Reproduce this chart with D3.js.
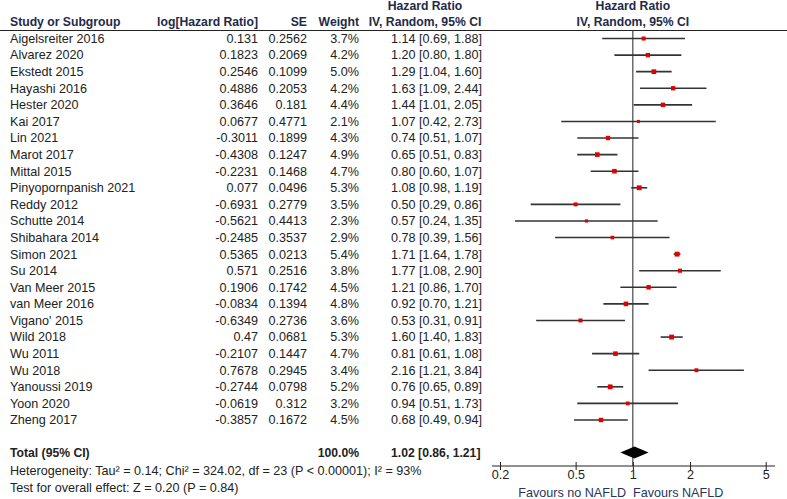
<!DOCTYPE html>
<html><head><meta charset="utf-8">
<script src="https://cdn.jsdelivr.net/npm/d3@7"></script>
<style>
body{margin:0;background:#fff;}
svg text{font-family:"Liberation Sans",Arial,sans-serif;}
</style></head>
<body><svg id="c" width="787" height="499"></svg>
<script>
const studies = ["Aigelsreiter 2016","Alvarez 2020","Ekstedt 2015","Hayashi 2016","Hester 2020","Kai 2017","Lin 2021","Marot 2017","Mittal 2015","Pinyopornpanish 2021","Reddy 2012","Schutte 2014","Shibahara 2014","Simon 2021","Su 2014","Van Meer 2015","van Meer 2016","Vigano' 2015","Wild 2018","Wu 2011","Wu 2018","Yanoussi 2019","Yoon 2020","Zheng 2017"];
const logHR = ["0.131","0.1823","0.2546","0.4886","0.3646","0.0677","-0.3011","-0.4308","-0.2231","0.077","-0.6931","-0.5621","-0.2485","0.5365","0.571","0.1906","-0.0834","-0.6349","0.47","-0.2107","0.7678","-0.2744","-0.0619","-0.3857"];
const se = ["0.2562","0.2069","0.1099","0.2053","0.181","0.4771","0.1899","0.1247","0.1468","0.0496","0.2779","0.4413","0.3537","0.0213","0.2516","0.1742","0.1394","0.2736","0.0681","0.1447","0.2945","0.0798","0.312","0.1672"];
const weight = [3.7,4.2,5.0,4.2,4.4,2.1,4.3,4.9,4.7,5.3,3.5,2.3,2.9,5.4,3.8,4.5,4.8,3.6,5.3,4.7,3.4,5.2,3.2,4.5];
const hr = [1.14,1.20,1.29,1.63,1.44,1.07,0.74,0.65,0.80,1.08,0.50,0.57,0.78,1.71,1.77,1.21,0.92,0.53,1.60,0.81,2.16,0.76,0.94,0.68];
const lo = [0.69,0.80,1.04,1.09,1.01,0.42,0.51,0.51,0.60,0.98,0.29,0.24,0.39,1.64,1.08,0.86,0.70,0.31,1.40,0.61,1.21,0.65,0.51,0.49];
const hi = [1.88,1.80,1.60,2.44,2.05,2.73,1.07,0.83,1.07,1.19,0.86,1.35,1.56,1.78,2.90,1.70,1.21,0.91,1.83,1.08,3.84,0.89,1.73,0.94];
const total = {hr:1.02, lo:0.86, hi:1.21, weight:"100.0%"};
const ticks = [0.2,0.5,1,2,5];

const svg = d3.select("#c");
const fs = 12.6, fb = 12.2;
const txt = "#222";
const head = "#1e2a48";
const x = d3.scaleLog().domain([0.2,5]).range([500,765.7]);
const y = d3.scaleLinear().domain([0,23]).range([38.5,420]);
const fmt = d3.format(".2f");

// header
const H = svg.append("g").attr("font-weight","bold").attr("fill",head).attr("font-size",fb);
H.append("text").attr("x",10).attr("y",26).text("Study or Subgroup");
H.append("text").attr("x",258).attr("y",26).attr("text-anchor","end").text("log[Hazard Ratio]");
H.append("text").attr("x",307).attr("y",26).attr("text-anchor","end").text("SE");
H.append("text").attr("x",359).attr("y",26).attr("text-anchor","end").text("Weight");
H.append("text").attr("x",425).attr("y",10).attr("text-anchor","middle").text("Hazard Ratio");
H.append("text").attr("x",425).attr("y",26).attr("text-anchor","middle").text("IV, Random, 95% CI");
H.append("text").attr("x",x(1)).attr("y",10).attr("text-anchor","middle").text("Hazard Ratio");
H.append("text").attr("x",x(1)).attr("y",26).attr("text-anchor","middle").text("IV, Random, 95% CI");
svg.append("line").attr("x1",0).attr("x2",787).attr("y1",30.5).attr("y2",30.5).attr("stroke","#222").attr("stroke-width",1);

// rows
const R = svg.append("g").attr("font-size",fs).attr("fill",txt);
studies.forEach((s,i)=>{
  const yy = y(i)+4.4;
  R.append("text").attr("x",10).attr("y",yy).text(s);
  R.append("text").attr("x",258).attr("y",yy).attr("text-anchor","end").text(logHR[i]);
  R.append("text").attr("x",307).attr("y",yy).attr("text-anchor","end").text(se[i]);
  R.append("text").attr("x",359).attr("y",yy).attr("text-anchor","end").text(weight[i].toFixed(1)+"%");
  R.append("text").attr("x",391).attr("y",yy).text(`${fmt(hr[i])} [${fmt(lo[i])}, ${fmt(hi[i])}]`);
});

// zero line
svg.append("line").attr("x1",x(1)).attr("x2",x(1)).attr("y1",30.5).attr("y2",466).attr("stroke","#222").attr("stroke-width",1);

// CI lines + squares
const P = svg.append("g");
studies.forEach((s,i)=>{
  P.append("line").attr("x1",x(lo[i])).attr("x2",x(hi[i])).attr("y1",y(i)).attr("y2",y(i))
   .attr("stroke","#333").attr("stroke-width",1.6);
  const sz = 2.1*Math.sqrt(weight[i]);
  P.append("rect").attr("x",x(hr[i])-sz/2).attr("y",y(i)-sz/2).attr("width",sz).attr("height",sz).attr("fill","#e00000");
});

// total
const yt = 452.5;
const T = svg.append("g").attr("font-size",fb).attr("font-weight","bold").attr("fill",txt);
T.append("text").attr("x",10).attr("y",yt+4.3).text("Total (95% CI)");
T.append("text").attr("x",359).attr("y",yt+4.3).attr("text-anchor","end").text(total.weight);
T.append("text").attr("x",391).attr("y",yt+4.3).text(`${fmt(total.hr)} [${fmt(total.lo)}, ${fmt(total.hi)}]`);
svg.append("path").attr("d",`M${x(total.lo)},${yt} L${x(total.hr)},${yt-6} L${x(total.hi)},${yt} L${x(total.hr)},${yt+6} Z`).attr("fill","#000");

svg.append("text").attr("x",10).attr("y",475).attr("font-size",fs).attr("fill",txt)
  .text("Heterogeneity: Tau\u00b2 = 0.14; Chi\u00b2 = 324.02, df = 23 (P < 0.00001); I\u00b2 = 93%");
svg.append("text").attr("x",10).attr("y",492).attr("font-size",fs).attr("fill",txt)
  .text("Test for overall effect: Z = 0.20 (P = 0.84)");

// axis
const ax = svg.append("g").attr("transform","translate(0,466)");
ax.append("line").attr("x1",492).attr("x2",775).attr("stroke","#222");
const axis = d3.axisBottom(x).tickValues(ticks).tickFormat(d3.format("")).tickSize(4).tickSizeOuter(0);
const ag = ax.append("g").call(axis);
ag.select(".domain").remove();
ag.selectAll(".tick line").attr("y1",-4).attr("y2",4).attr("stroke","#222");
ag.selectAll(".tick text").attr("font-size",fs).attr("fill",txt).attr("font-family","Liberation Sans, Arial, sans-serif").attr("dy","0.55em").attr("y",6);

svg.append("text").attr("x",626).attr("y",497).attr("text-anchor","end").attr("font-size",fs).attr("fill","#25355e").text("Favours no NAFLD");
svg.append("text").attr("x",633).attr("y",497).attr("font-size",fs).attr("fill","#25355e").text("Favours NAFLD");
</script></body></html>
